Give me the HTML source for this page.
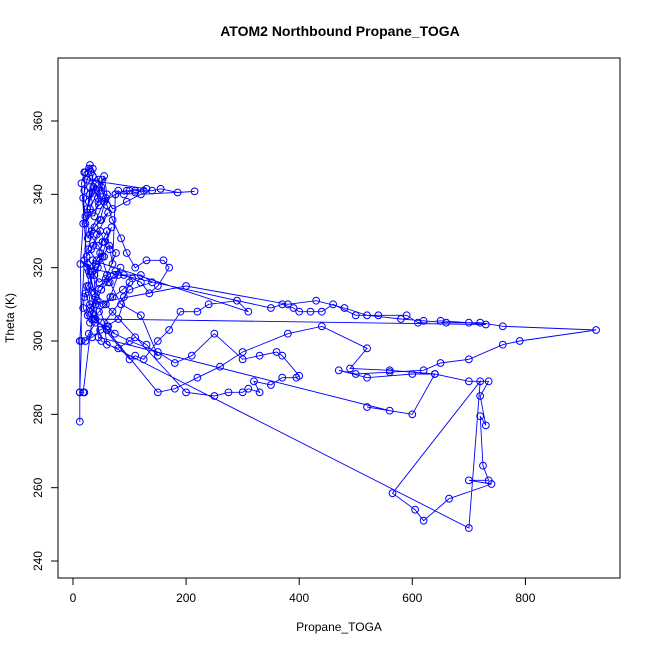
<!DOCTYPE html>
<html><head><meta charset="utf-8"><style>
body{margin:0;background:#fff}
svg{font-family:"Liberation Sans",sans-serif}
</style></head><body>
<svg id="chart" width="650" height="650">
<text x="340" y="36" text-anchor="middle" font-size="14" font-weight="bold">ATOM2 Northbound Propane_TOGA</text>
<rect x="58" y="58" width="562" height="520" fill="none" stroke="#000"/>
<text x="339" y="631" text-anchor="middle" font-size="12">Propane_TOGA</text>
<text x="14" y="318" text-anchor="middle" font-size="12" transform="rotate(-90 14 318)">Theta (K)</text>
<g id="axes"></g><g id="marks"></g>
</svg>
<script>
const xTicks=[0,200,400,600,800];
const yTicks=[240,260,280,300,320,340,360];
const seriesX=[12,12,15,13,18,20,22,28,35,30,25,40,45,38,50,55,60,48,33,27,42,52,60,65,70,75,80,90,100,110,125,140,155,185,215,120,95,70,50,35,25,18,22,30,45,55,38,25,20,18,30,40,50,60,75,90,105,120,135,150,170,160,130,110,95,85,70,60,45,30,20,15,
30,200,380,430,480,520,580,620,660,720,760,925,790,760,700,650,620,560,500,470,520,600,640,560,490,520,440,380,300,260,220,180,150,60,40,
25,350,370,390,400,420,440,460,500,540,590,610,650,700,730,40,30,100,110,125,150,170,190,220,240,290,310,35,
45,560,520,600,640,700,735,720,730,720,725,735,700,740,665,620,605,565,720,700,50,
28,200,250,275,300,310,330,320,350,370,395,400,370,360,330,300,250,210,180,150,100,60,38,
22,80,120,140,100,90,70,55,60,80,110,130,150,120,85,65,48,
18,20,12,12,25,30,55,75,95,110,130,
24,32,40,28,36,44,52,30,22,34,46,58,26,38,50,62,42,32,24,36,48,56,68,44,30,20,28,40,52,64,76,58,46,34,26,38,50,62,72,84,66,54,42,30,26,34,46,58,70,88,100,80,60,40,28,22,34,48,62,74];
const seriesY=[278,286,300,321,332,341,346,347,345,340,336,343,338,334,341,345,340,333,330,325,322,327,330,325,321,340,341,340,341,340.5,341,341,341.5,340.5,340.8,340,338,336,342,347,344,339,334,329,326,323,318,315,312,309,305,310,314,318,319,318,317,316,313,315,320,322,322,320,324,328,333,337,344,348,346,343,
310,315,310,311,309,307,306,305.5,305,305,304,303,300,299,295,294,292,291.5,291,292,290,291,291,292,292.5,298,304,302,297,293,290,287,286,303,312,
320,309,310,309,308,308,308,310,307,307,307,305,305.5,305,304.5,306,308,295,296,295,300,303,308,308,310,311,308,322,
301,281,282,280,291,289,289,285,277,279.5,266,262,262,261,257,251,254,258.5,289,249,300,
315,286,285,286,286,287,286,289,288,290,290,290.5,296,297,296,295,302,296,294,297,300,303,306,
313,318,318,316,314,312,308,305,299,298,301,299,296,307,310,316,324,
286,286,286,300,335,342,338,340,341,341,341.5,
344,346,341,338,342,339,344,336,332,335,337,339,328,331,333,335,329,325,323,326,330,327,331,320,318,322,319,321,323,326,324,317,316,319,321,313,314,316,318,320,312,310,311,309,307,306,308,310,312,314,316,306,304,305,302,300,301,303,304,302];
const X=v=>73+v*0.5655, Y=v=>341-(v-300)*3.667;
const NS="http://www.w3.org/2000/svg";
const axes=document.getElementById('axes'),marks=document.getElementById('marks');
function mk(t,a,p){const e=document.createElementNS(NS,t);for(const k in a)e.setAttribute(k,a[k]);p.appendChild(e);return e;}
let xl=mk('line',{x1:X(xTicks[0]),x2:X(xTicks[xTicks.length-1]),y1:578,y2:578,stroke:'#000'},axes);

xTicks.forEach(t=>{const l=mk('line',{x1:X(t),x2:X(t),y1:578,y2:585,stroke:'#000'},axes);

const s=mk('text',{x:X(t),y:602,'text-anchor':'middle','font-size':12},axes);s.textContent=t;
});
let yl=mk('line',{x1:58,x2:58,y1:Y(yTicks[0]),y2:Y(yTicks[yTicks.length-1]),stroke:'#000'},axes);

yTicks.forEach(t=>{const l=mk('line',{x1:51,x2:58,y1:Y(t),y2:Y(t),stroke:'#000'},axes);

const s=mk('text',{x:42,y:Y(t),'text-anchor':'middle','font-size':12,transform:`rotate(-90 42 ${Y(t)})`},axes);s.textContent=t;
});
const n=Math.min(seriesX.length,seriesY.length);
let d='';for(let i=0;i<n;i++)d+=(i?'L':'M')+X(seriesX[i]).toFixed(1)+' '+Y(seriesY[i]).toFixed(1);
const p=mk('path',{d:d,fill:'none',stroke:'#0000ff','stroke-width':0.9},marks);

for(let i=0;i<n;i++){const c=mk('circle',{cx:X(seriesX[i]),cy:Y(seriesY[i]),r:3.4,fill:'none',stroke:'#0000ff','stroke-width':1},marks);
}
</script>
</body></html>
